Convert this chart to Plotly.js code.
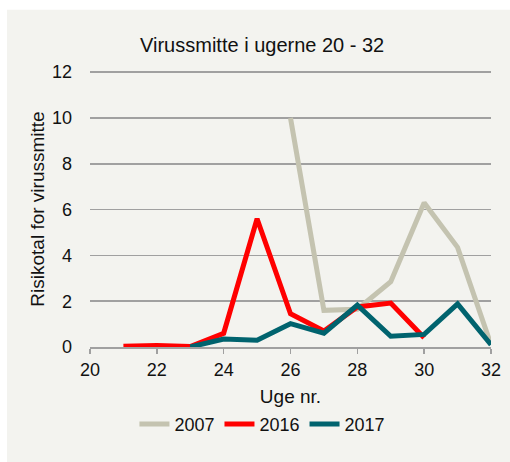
<!DOCTYPE html>
<html><head><meta charset="utf-8">
<script src="https://cdn.plot.ly/plotly-3.0.1.min.js"></script>
<style>html,body{margin:0;padding:0;background:#fff}#c{width:510px;height:462px}</style>
</head><body><div id="c"></div>
<script>
const weeks2007 = [26, 27, 28, 29, 30, 31, 32];
const values2007 = [10, 1.6, 1.65, 2.85, 6.3, 4.35, 0.1];
const weeks2016 = [21, 22, 23, 24, 25, 26, 27, 28, 29, 30];
const values2016 = [0.03, 0.07, 0.02, 0.6, 5.6, 1.45, 0.7, 1.75, 1.92, 0.4];
const weeks2017 = [23, 24, 25, 26, 27, 28, 29, 30, 31, 32];
const values2017 = [0, 0.35, 0.3, 1.02, 0.6, 1.83, 0.47, 0.55, 1.88, 0.1];
const seriesNames = ["2007", "2016", "2017"];
const xTicks = [20, 22, 24, 26, 28, 30, 32];
const yTicks = [0, 2, 4, 6, 8, 10, 12];

const font = "Liberation Sans, Arial, sans-serif";
const traces = [
  {x: weeks2007, y: values2007, name: seriesNames[0], mode: "lines", line: {color: "#c4c3b0", width: 5}},
  {x: weeks2016, y: values2016, name: seriesNames[1], mode: "lines", line: {color: "#ff0000", width: 5}},
  {x: weeks2017, y: values2017, name: seriesNames[2], mode: "lines", line: {color: "#00636e", width: 5}}
];
const layout = {
  width: 510, height: 462,
  margin: {l: 90, r: 19, t: 71, b: 115},
  paper_bgcolor: "#ffffff",
  plot_bgcolor: "rgba(0,0,0,0)",
  font: {family: font, size: 18, color: "#111"},
  title: {text: "Virussmitte i ugerne 20 - 32", x: 0.514, xref: "container", y: 1 - 45/462, yref: "container", yanchor: "middle", xanchor: "center", font: {family: font, size: 20, color: "#111"}},
  shapes: [{type: "rect", xref: "paper", yref: "paper", x0: -0.207, x1: 1.1, y0: -0.42, y1: 1.222, fillcolor: "#f3f3ef", line: {width: 0}, layer: "below"}],
  xaxis: {
    range: [20, 32], tickvals: xTicks, ticktext: xTicks.map(String),
    showgrid: false, zeroline: false, showline: true, linecolor: "#a0a0a0", linewidth: 1.5,
    ticks: "outside", ticklen: 5, tickcolor: "#a0a0a0", tickwidth: 1.5, ticklabelstandoff: 1,
    tickfont: {family: font, size: 18, color: "#111"},
    title: {text: "Uge nr.", standoff: 10, font: {family: font, size: 19}},
    fixedrange: true
  },
  yaxis: {
    range: [0, 12.05], tickvals: yTicks, ticktext: yTicks.map(String),
    showgrid: true, gridcolor: "#a0a0a0", gridwidth: 1.5, zeroline: false, showline: false,
    ticks: "", ticklabelstandoff: 17,
    tickfont: {family: font, size: 18, color: "#111"},
    title: {text: "Risikotal for virussmitte", standoff: 2, font: {family: font, size: 19}},
    fixedrange: true
  },
  showlegend: true,
  legend: {orientation: "h", x: 0.43, xanchor: "center", y: -0.28, yanchor: "middle", font: {family: font, size: 18}, bgcolor: "rgba(0,0,0,0)"}
};
Plotly.newPlot("c", traces, layout, {displayModeBar: false, staticPlot: true});
</script></body></html>
